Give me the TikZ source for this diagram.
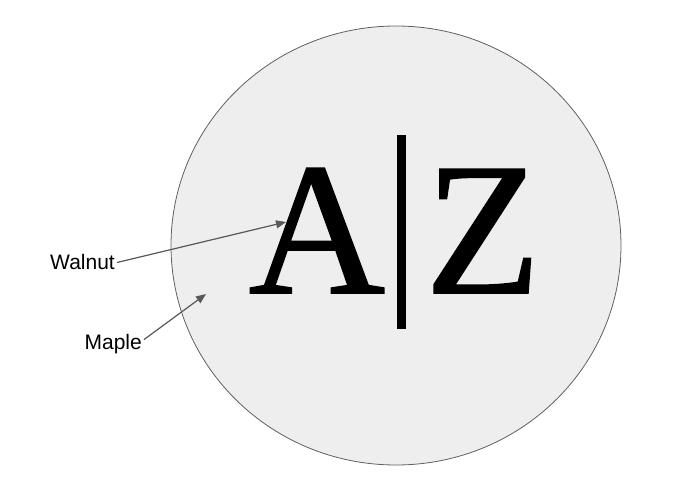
\documentclass[tikz,border=0pt]{standalone}
\usepackage{fontspec}
\setmainfont{Liberation Serif}
\newfontfamily\bigserif[FakeBold=0.9]{Liberation Serif}
\newfontfamily\tagfont{Liberation Sans}
\usetikzlibrary{arrows.meta}
\definecolor{disc}{HTML}{EEEEEE}
\definecolor{rim}{HTML}{606060}
\definecolor{pointer}{HTML}{595959}

\begin{document}
\begin{tikzpicture}[x=1pt,y=-1pt]
    \tikzstyle{letter}=[inner sep=0pt,anchor=base,font=\bigserif\fontsize{189}{189}\selectfont]
    \tikzstyle{woodname}=[inner sep=2pt,anchor=base east,font=\tagfont\fontsize{21}{21}\selectfont]
    \tikzstyle{pointer arrow}=[draw=pointer,line width=1.2pt,-{Triangle[length=10pt,width=8pt]},fill=pointer]

    \useasboundingbox (0,0) rectangle (673,500);

    % Draw the disc
    \draw[draw=rim,fill=disc,line width=0.8pt] (396,245.5) ellipse [x radius=225, y radius=219.5];

    % Draw the two letters and the bar between them
    \node[letter] (A) at (317,293) {A};
    \node[letter] (Z) at (483,293) {Z};
    \node[fill=black,minimum width=9pt,minimum height=194pt,inner sep=0pt] (bar) at (401.5,232) {};

    % Points the pointers aim at
    \coordinate (walnut tip) at (286,222);
    \coordinate (maple tip) at (206,294);

    % Annotate the woods
    \node[woodname] (walnut) at (117,270) {Walnut};
    \node[woodname] (maple) at (144,349) {Maple};
    \draw[pointer arrow] (walnut.east) -- (walnut tip);
    \draw[pointer arrow] ([yshift=4pt]maple.east) -- (maple tip);
\end{tikzpicture}
\end{document}
